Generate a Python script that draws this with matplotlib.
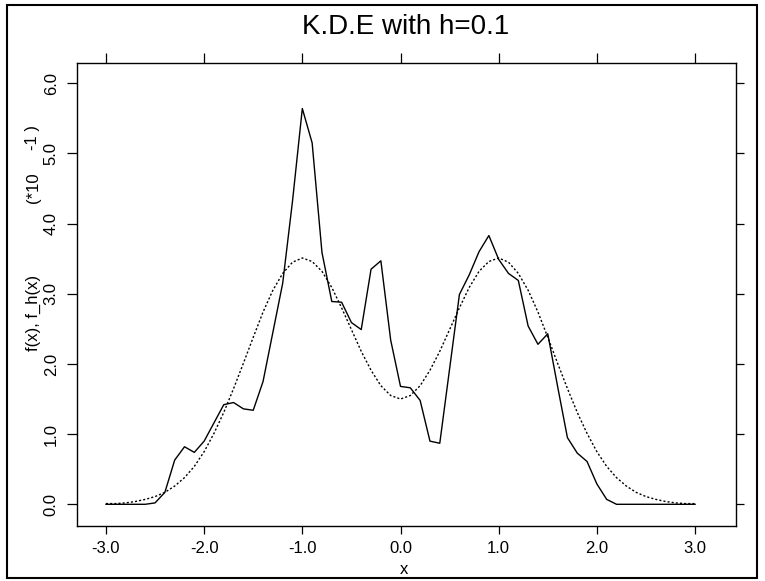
import matplotlib
matplotlib.use("Agg")
import matplotlib.pyplot as plt
from matplotlib.patches import Rectangle
import numpy as np

plt.rcParams['font.family'] = ['Liberation Sans', 'DejaVu Sans']

# grid of evaluation points, -3.0 .. 3.0 step 0.1
x = np.round(np.arange(-30, 31) / 10.0, 1)

# kernel density estimate with h=0.1 (solid line)
f_h = [0.000, 0.000, 0.000, 0.000, 0.000, 0.002, 0.017, 0.063, 0.082, 0.074,
       0.090, 0.116, 0.142, 0.145, 0.136, 0.134, 0.175, 0.245, 0.315, 0.432,
       0.564, 0.515, 0.359, 0.289, 0.288, 0.259, 0.249, 0.335, 0.347, 0.234,
       0.168, 0.166, 0.148, 0.090, 0.087, 0.193, 0.299, 0.327, 0.360, 0.383,
       0.349, 0.329, 0.319, 0.254, 0.228, 0.243, 0.168, 0.095, 0.073, 0.061,
       0.029, 0.007, 0.000, 0.000, 0.000, 0.000, 0.000, 0.000, 0.000, 0.000,
       0.000]

# true density (dotted line)
f_true = [0.001, 0.001, 0.002, 0.004, 0.007, 0.011, 0.017, 0.026, 0.038, 0.054,
          0.075, 0.101, 0.131, 0.165, 0.201, 0.238, 0.274, 0.305, 0.329, 0.345,
          0.351, 0.346, 0.332, 0.309, 0.280, 0.249, 0.218, 0.191, 0.169, 0.155,
          0.150, 0.155, 0.169, 0.191, 0.218, 0.249, 0.280, 0.309, 0.332, 0.346,
          0.351, 0.345, 0.329, 0.305, 0.274, 0.238, 0.201, 0.165, 0.131, 0.101,
          0.075, 0.054, 0.038, 0.026, 0.017, 0.011, 0.007, 0.004, 0.002, 0.001,
          0.001]

xticks = [-3.0, -2.0, -1.0, 0.0, 1.0, 2.0, 3.0]
yticks = [0.0, 0.1, 0.2, 0.3, 0.4, 0.5, 0.6]
ylabels = ["0.0", "1.0", "2.0", "3.0", "4.0", "5.0", "6.0"]

W, H = 765, 581
fig = plt.figure(figsize=(W / 100, H / 100), dpi=100)
ax = fig.add_axes([76.7 / W, 1 - 525.7 / H, (735.7 - 76.7) / W, (525.7 - 62.7) / H])

ax.plot(x, f_h, color="black", lw=1.0)
ax.plot(x, f_true, color="black", lw=1.0, linestyle=(0, (1.5, 1.5)))

ax.set_xlim(-3.298, 3.414)
ax.set_ylim(-0.0305, 0.6293)

ax.set_xticks(xticks)
ax.set_xticklabels(["%.1f" % v for v in xticks], fontsize=12)
ax.set_yticks(yticks)
ax.set_yticklabels(ylabels, fontsize=12, rotation=90, va="center")

ax.tick_params(axis="x", which="both", direction="out", length=6, width=0.9,
               top=True, bottom=True, labeltop=False, pad=5)
ax.tick_params(axis="x", which="both")
ax.tick_params(axis="y", which="both", direction="out", length=7, width=0.9,
               left=True, right=True, labelright=False, pad=6)
for s in ax.spines.values():
    s.set_linewidth(1.0)

# longer top ticks, shorter right ticks
for t in ax.xaxis.get_major_ticks():
    t.tick2line.set_markersize(7)
for t in ax.yaxis.get_major_ticks():
    t.tick2line.set_markersize(6)

fig.text(404 / W, 1 - 570 / H, "x", fontsize=12, ha="center", va="center")
fig.text(33 / W, 1 - 313 / H, "f(x), f_h(x)", fontsize=12, rotation=90,
         ha="center", va="center")
fig.text(33 / W, 1 - 188 / H, "(*10", fontsize=12, rotation=90,
         ha="center", va="center")
fig.text(33 / W, 1 - 138 / H, "-1 )", fontsize=12, rotation=90,
         ha="center", va="center")
fig.text(406 / W, 1 - 27 / H, "K.D.E with h=0.1", fontsize=20,
         ha="center", va="center")

fig.add_artist(Rectangle((7 / W, 3 / H), (757 - 7) / W, (576 - 3) / H,
                         transform=fig.transFigure, fill=False, lw=1.5,
                         edgecolor="black"))

fig.savefig("out.png", dpi=100)
